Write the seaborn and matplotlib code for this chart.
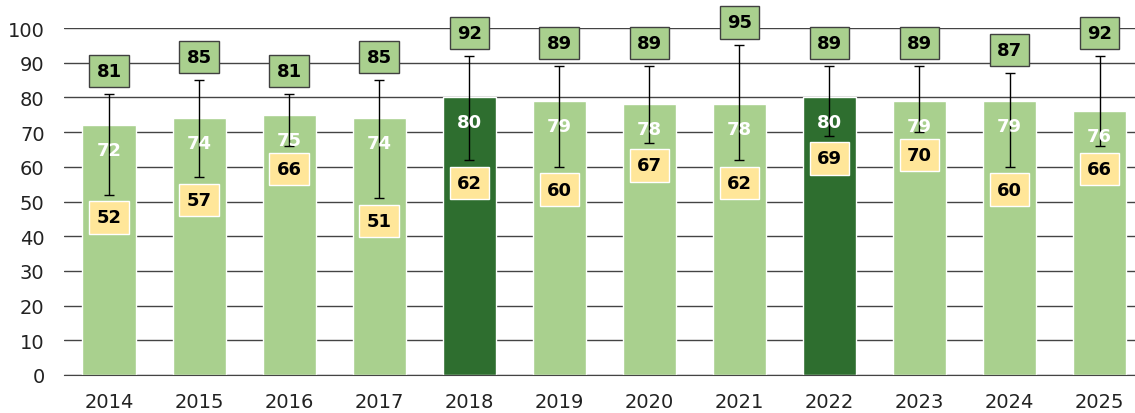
import numpy as np
import pandas as pd
import matplotlib
matplotlib.use("Agg")
import matplotlib.pyplot as plt
import seaborn as sns

# values
years = ["2014", "2015", "2016", "2017", "2018", "2019", "2020", "2021", "2022", "2023", "2024", "2025"]
avg = [72, 74, 75, 74, 80, 79, 78, 78, 80, 79, 79, 76]
low = [52, 57, 66, 51, 62, 60, 67, 62, 69, 70, 60, 66]
high = [81, 85, 81, 85, 92, 89, 89, 95, 89, 89, 87, 92]
highlight = ["2018", "2022"]

light_green = "#a9d08e"
dark_green = "#2e6e2f"
yellow = "#ffe699"

df = pd.DataFrame({"year": years, "avg": avg, "low": low, "high": high})
palette = {y: (dark_green if y in highlight else light_green) for y in years}

sns.set_style("white")
plt.rcParams["font.family"] = ["DejaVu Sans"]

fig = plt.figure(figsize=(11.35, 4.14), dpi=100)
ax = fig.add_axes([64 / 1135, 1 - 376 / 414, 1 - 64 / 1135, 347 / 414])

sns.barplot(data=df, x="year", y="avg", hue="year", palette=palette,
            legend=False, width=0.59, saturation=1, ax=ax, zorder=2)

x = np.arange(len(years))
ax.errorbar(x, df["avg"], yerr=[df["avg"] - df["low"], df["high"] - df["avg"]],
            fmt="none", ecolor="black", elinewidth=1, capsize=3.4, capthick=1, zorder=3)

# labels
for i, row in df.iterrows():
    ax.annotate(f"{row['avg']}", (i, row["avg"]), xytext=(0, -18), textcoords="offset points",
                ha="center", va="center", color="white", fontsize=13, fontweight="bold", zorder=4)
    ax.annotate(f"{row['high']}", (i, row["high"]), xytext=(0, 16.5), textcoords="offset points",
                ha="center", va="center", color="black", fontsize=13, fontweight="bold", zorder=5,
                bbox=dict(boxstyle="square,pad=0.4", fc=light_green, ec="#404040", lw=1))
    ax.annotate(f"{row['low']}", (i, row["low"]), xytext=(0, -16.5), textcoords="offset points",
                ha="center", va="center", color="black", fontsize=13, fontweight="bold", zorder=5,
                bbox=dict(boxstyle="square,pad=0.4", fc=yellow, ec="white", lw=1))

ax.set_ylim(0, 100)
ax.set_xlim(-0.5, -0.5 + 1071 / 90.05)
ax.set_yticks(range(0, 101, 10))
ax.yaxis.grid(True, color="#444444", linewidth=1, zorder=0)
ax.set_axisbelow(True)
for s in ["left", "right", "top"]:
    ax.spines[s].set_visible(False)
ax.spines["bottom"].set_color("#444444")
ax.set_xlabel("")
ax.set_ylabel("")
ax.tick_params(axis="y", length=0, pad=14, labelsize=14, labelcolor="#222222")
ax.tick_params(axis="x", length=0, pad=12, labelsize=14, labelcolor="#222222")

fig.savefig("out.png", dpi=100)
